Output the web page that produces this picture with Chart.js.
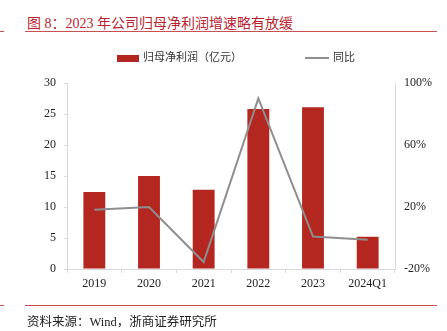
<!DOCTYPE html>
<html>
    <head>
        <title>归母净利润</title>
        <meta charset="UTF-8">
        <script src="https://cdn.jsdelivr.net/npm/chart.js@4.4.1/dist/chart.umd.min.js"></script>
        <style>
            body { margin: 0; width: 447px; height: 331px; position: relative; background: #fff; overflow: hidden;
                   font-family: "Liberation Serif", "Noto Sans CJK SC", serif; }
            #title { position: absolute; left: 27px; top: 12px; font-size: 14px; color: #b8232f; white-space: nowrap; }
            .rule { position: absolute; height: 1px; background: #c9504f; }
            #legend { position: absolute; top: 50px; left: 0; width: 447px; font-size: 11px; color: #333; }
            .item { position: absolute; top: 0; white-space: nowrap; line-height: 14px; }
            .swatch { display: inline-block; vertical-align: middle; margin-right: 4px; }
            #source { position: absolute; left: 27px; top: 311px; font-size: 12.5px; color: #222; white-space: nowrap; }
            #box { position: absolute; left: 0; top: 0; width: 447px; height: 331px; }
        </style>
    </head>
    <body>
        <div id="title">图 8：2023 年公司归母净利润增速略有放缓</div>
        <div class="rule" style="left:0;width:4px;top:31px"></div>
        <div class="rule" style="left:25px;width:412px;top:31px"></div>
        <div id="box"><canvas id="chart" width="447" height="331"></canvas></div>
        <div id="legend"></div>
        <div class="rule" style="left:0;width:4px;top:305px"></div>
        <div class="rule" style="left:25px;width:412px;top:305px"></div>
        <div id="source">资料来源：Wind，浙商证券研究所</div>

        <script>
            // 数据
            var years = ['2019', '2020', '2021', '2022', '2023', '2024Q1'];
            var profit = [12.4, 15.0, 12.8, 25.8, 26.1, 5.2];      // 归母净利润（亿元）
            var yoy = [18.3, 20.0, -15.5, 90.0, 0.9, -1.1];        // 同比 %
            var profitName = '归母净利润（亿元）';
            var yoyName = '同比';
            var barColor = 'rgb(180,38,32)';
            var lineColor = '#8e8e8e';
            var axisColor = '#d9d9d9';
            var tickFont = { family: 'Liberation Serif', size: 12 };

            // 图例
            var legend = document.getElementById('legend');
            legend.innerHTML =
                '<span class="item" style="left:117px"><span class="swatch" style="width:22px;height:7px;background:' + barColor + '"></span>' + profitName + '</span>' +
                '<span class="item" style="left:305px"><span class="swatch" style="width:24px;height:2px;background:' + lineColor + '"></span>' + yoyName + '</span>';

            new Chart(document.getElementById('chart'), {
                data: {
                    labels: years,
                    datasets: [{
                            type: 'line',
                            label: yoyName,
                            data: yoy,
                            yAxisID: 'y1',
                            borderColor: lineColor,
                            borderWidth: 2,
                            pointRadius: 0,
                            tension: 0,
                            order: 0
                        }, {
                            type: 'bar',
                            label: profitName,
                            data: profit,
                            yAxisID: 'y',
                            backgroundColor: barColor,
                            categoryPercentage: 0.8,
                            barPercentage: 0.5,
                            order: 1
                        }]
                },
                options: {
                    responsive: false,
                    animation: false,
                    layout: { padding: { top: 83, left: 0, right: 0, bottom: 0 } },
                    plugins: { legend: { display: false }, tooltip: { enabled: false } },
                    scales: {
                        x: {
                            offset: true,
                            grid: { offset: true, drawOnChartArea: false, color: axisColor, tickLength: 4 },
                            border: { color: axisColor },
                            ticks: { color: '#222', font: tickFont, padding: 4, maxRotation: 0, autoSkip: false },
                            afterFit: function (s) { s.height = 62; }
                        },
                        y: {
                            position: 'left',
                            min: 0, max: 30,
                            ticks: { stepSize: 5, color: '#222', font: tickFont, padding: 8 },
                            grid: { drawOnChartArea: false, color: axisColor, tickLength: 3 },
                            border: { color: axisColor },
                            afterFit: function (s) { s.width = 67; }
                        },
                        y1: {
                            position: 'right',
                            min: -20, max: 100,
                            ticks: { stepSize: 40, color: '#222', font: tickFont, padding: 9,
                                callback: function (v) { return v + '%'; } },
                            grid: { drawOnChartArea: false, drawTicks: false },
                            border: { color: axisColor },
                            afterFit: function (s) { s.width = 52; }
                        }
                    }
                }
            });
        </script>
    </body>
</html>
